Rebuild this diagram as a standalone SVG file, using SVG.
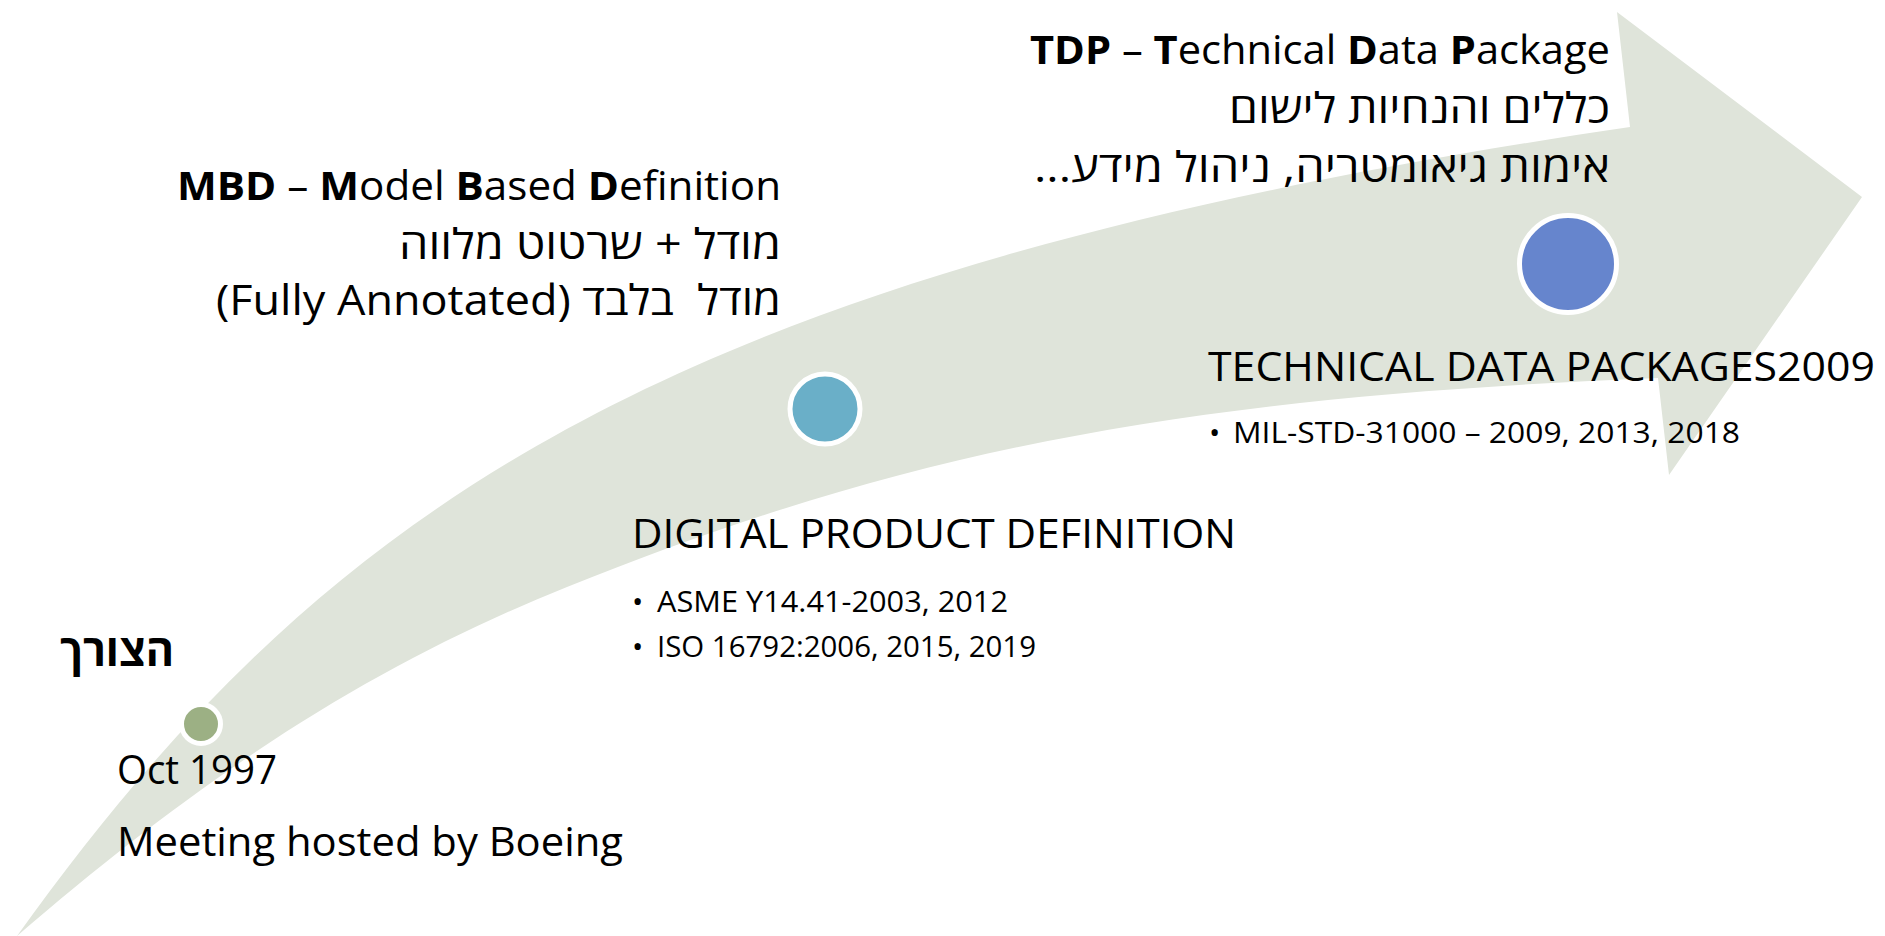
<svg xmlns="http://www.w3.org/2000/svg" width="1885" height="936" viewBox="0 0 1885 936">
<style>
.t{font-family:"Open Sans","DejaVu Sans",sans-serif;fill:#000;}
.big{font-size:40px;}
.heb{font-size:42px;}
.small{font-size:30px;}
.b{font-weight:bold;}
.ring{stroke:#fff;stroke-width:5;}
</style>
<rect width="1885" height="936" fill="#fff"/>
<g id="timeline">
<path d="M17 936 C330 499 675 268 1630 127 L1617 12 L1862 197 L1669 475 L1658 378 C1184 397 911 449 567 587 C378 663 213 767 17 936 Z" fill="#DFE4DA"/>
</g>
<g id="connectors"></g>
<g id="node-need">
<circle class="ring" cx="201" cy="724" r="19.5" fill="#9CB084"/>
<text class="t b" x="174" y="666" font-size="44" direction="rtl" text-anchor="start" textLength="114" lengthAdjust="spacingAndGlyphs">הצורך</text>
<text class="t big" x="117" y="784" textLength="160" lengthAdjust="spacingAndGlyphs">Oct 1997</text>
<text class="t big" x="117" y="856" textLength="506" lengthAdjust="spacingAndGlyphs">Meeting hosted by Boeing</text>
</g>
<g id="node-mbd">
<text class="t big" x="781" y="200" text-anchor="end" textLength="604" lengthAdjust="spacingAndGlyphs"><tspan class="b">MBD</tspan> – <tspan class="b">M</tspan>odel <tspan class="b">B</tspan>ased <tspan class="b">D</tspan>efinition</text>
<text class="t heb" x="781" y="259" direction="rtl" text-anchor="start" textLength="382" lengthAdjust="spacingAndGlyphs">מודל + שרטוט מלווה</text>
<text class="t heb" x="781" y="315" direction="rtl" text-anchor="start" xml:space="preserve" textLength="565" lengthAdjust="spacingAndGlyphs">מודל  בלבד (Fully Annotated)</text>
</g>
<g id="node-dpd">
<circle class="ring" cx="825" cy="409" r="35" fill="#6AAFC8"/>
<text class="t big" x="632" y="548" textLength="604" lengthAdjust="spacingAndGlyphs">DIGITAL PRODUCT DEFINITION</text>
<text class="t small" x="632" y="612">•</text>
<text class="t small" x="657" y="612" textLength="351" lengthAdjust="spacingAndGlyphs">ASME Y14.41-2003, 2012</text>
<text class="t small" x="632" y="657">•</text>
<text class="t small" x="657" y="657" textLength="379" lengthAdjust="spacingAndGlyphs">ISO 16792:2006, 2015, 2019</text>
</g>
<g id="node-tdp-notes">
<text class="t big" x="1610" y="64" text-anchor="end" textLength="580" lengthAdjust="spacingAndGlyphs"><tspan class="b">TDP</tspan> – <tspan class="b">T</tspan>echnical <tspan class="b">D</tspan>ata <tspan class="b">P</tspan>ackage</text>
<text class="t heb" x="1610" y="123" direction="rtl" text-anchor="start" textLength="381" lengthAdjust="spacingAndGlyphs">כללים והנחיות לישום</text>
<text class="t heb" x="1610" y="182" direction="rtl" text-anchor="start" textLength="576" lengthAdjust="spacingAndGlyphs">אימות גיאומטריה, ניהול מידע...</text>
</g>
<g id="node-tdp">
<circle class="ring" cx="1568" cy="264" r="48.5" fill="#6685CD"/>
<text class="t big" x="1208" y="381" textLength="667" lengthAdjust="spacingAndGlyphs">TECHNICAL DATA PACKAGES2009</text>
<text class="t small" x="1209" y="443">•</text>
<text class="t small" x="1233" y="443" textLength="507" lengthAdjust="spacingAndGlyphs">MIL-STD-31000 – 2009, 2013, 2018</text>
</g>
</svg>
